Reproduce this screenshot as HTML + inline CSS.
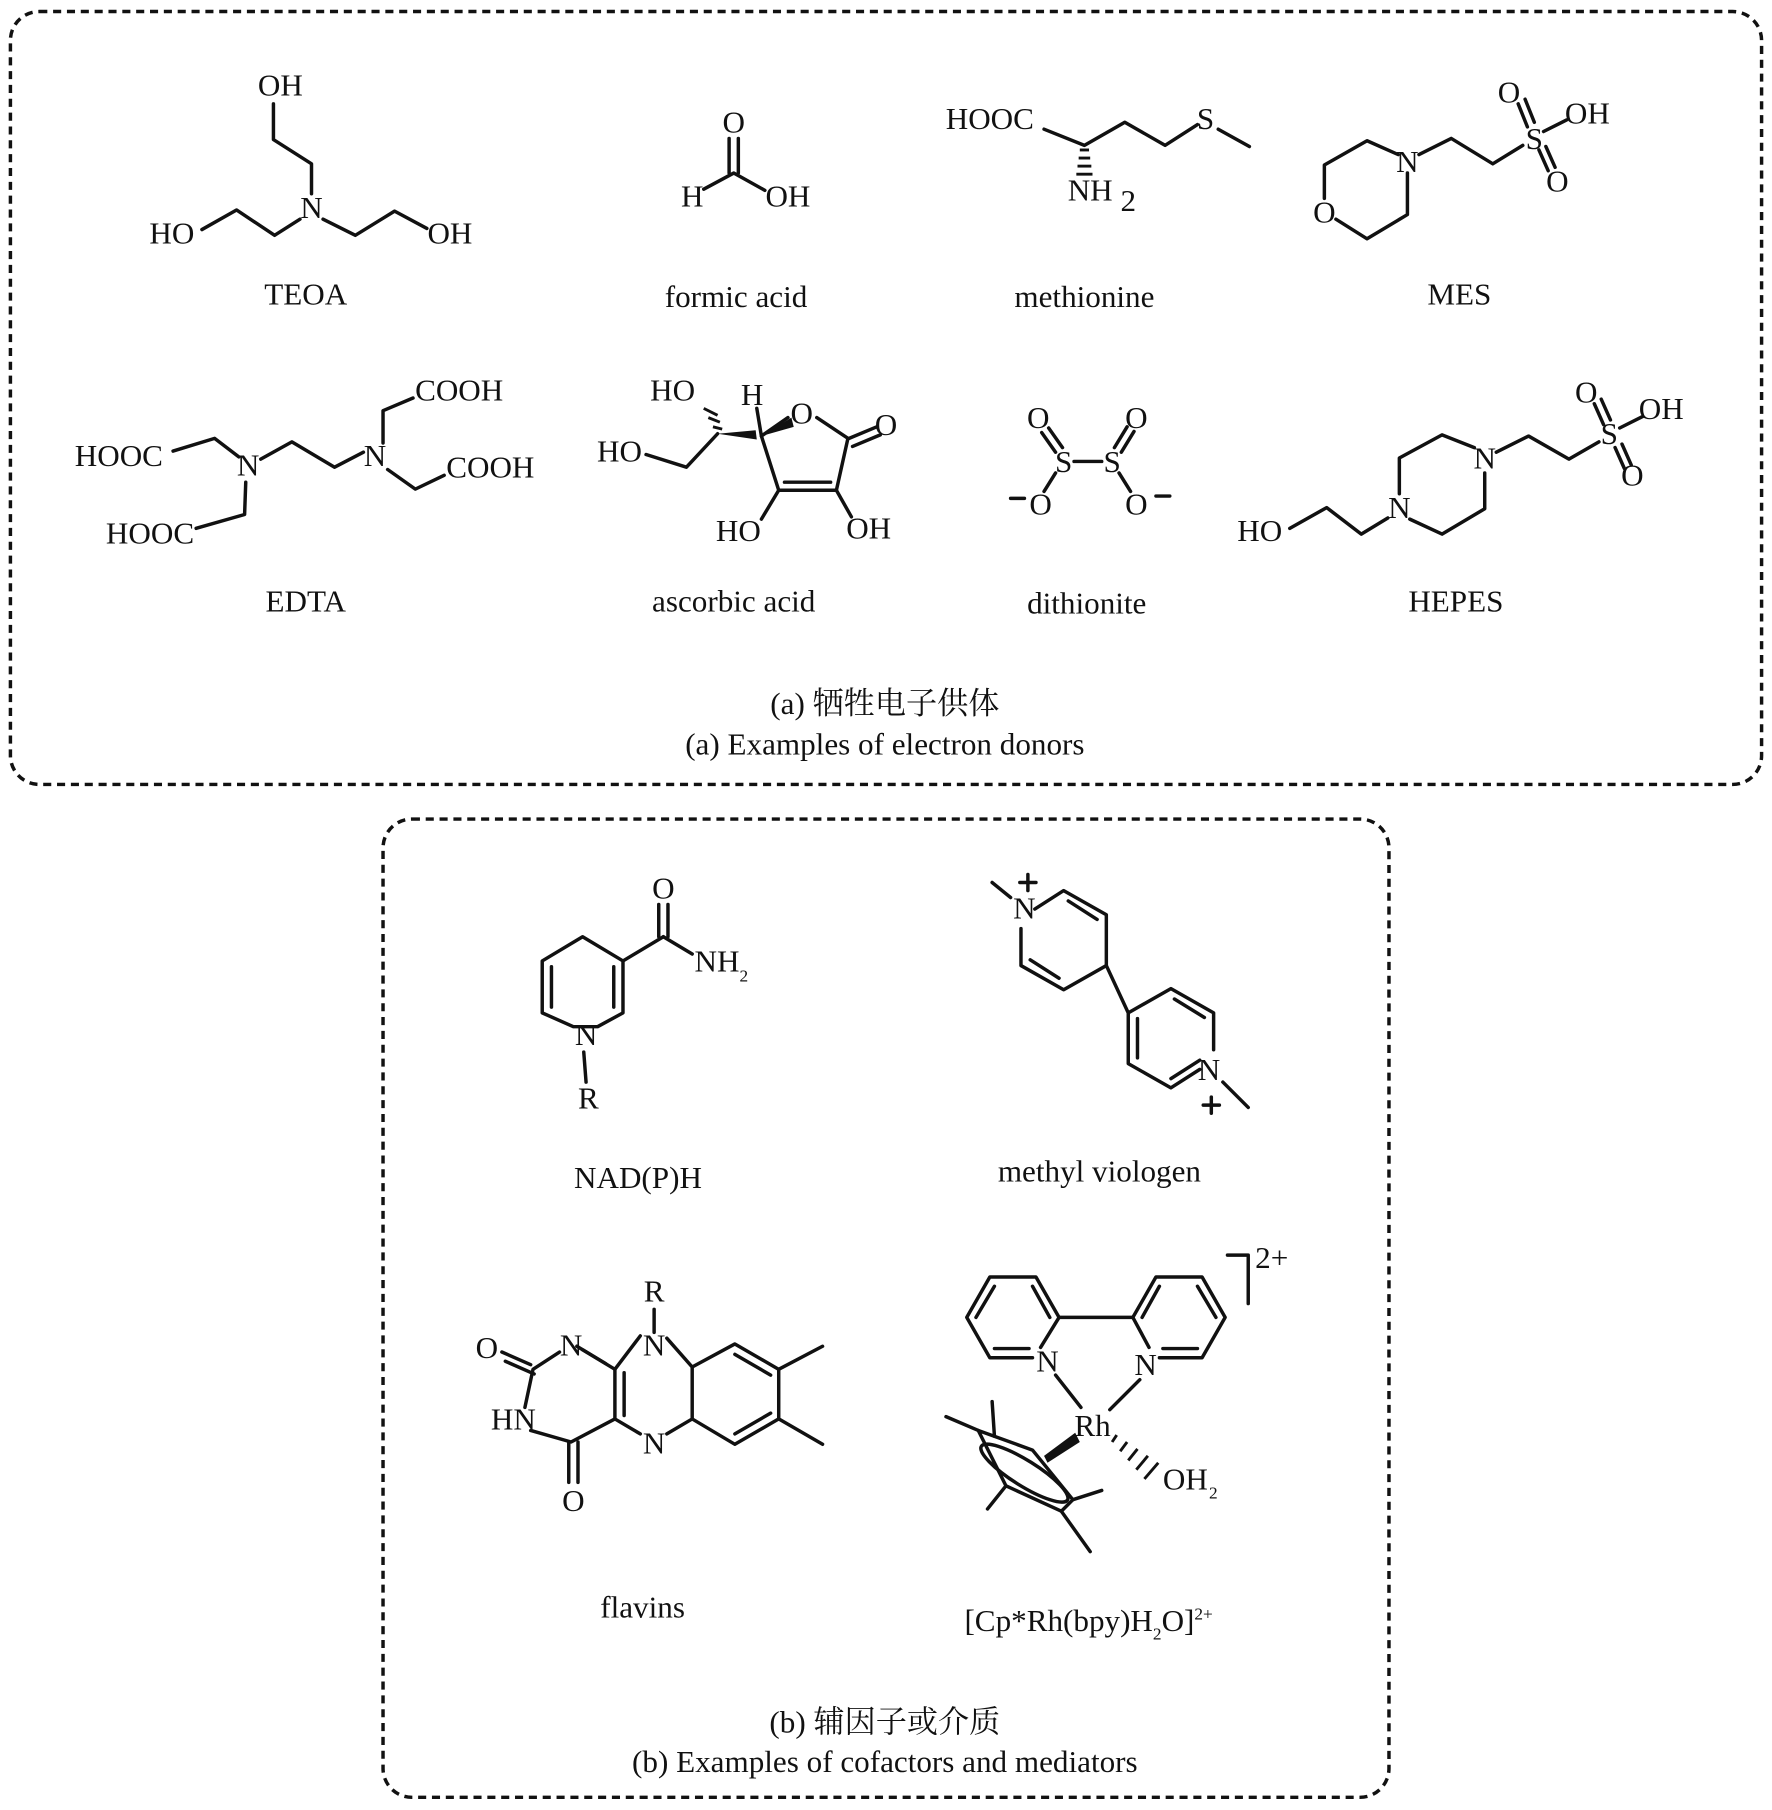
<!DOCTYPE html>
<html><head><meta charset="utf-8"><style>
html,body{margin:0;padding:0;background:#fff}
svg{display:block}
text{font-family:"Liberation Serif","Noto Serif CJK SC",serif;fill:#111}
</style></head><body>
<svg width="1772" height="1810" viewBox="0 0 1536 1569" xmlns="http://www.w3.org/2000/svg">
<g fill="none" stroke="#111" stroke-width="3" stroke-dasharray="7,5">
<rect x="9" y="10" width="1518" height="670" rx="25"/>
<rect x="332" y="710" width="872" height="848" rx="25"/>
</g>
<g fill="none" stroke="#111" stroke-width="3" stroke-linejoin="round" stroke-linecap="round">
<polyline points="175,199 205,182 238,204 260,190"/>
<polyline points="280,190 308,204 342,183 370,198"/>
<polyline points="270,168 270,142 237,121 237,90"/>
<line x1="632" y1="120" x2="632" y2="150"/><line x1="640" y1="120" x2="640" y2="150"/>
<polyline points="610,164 636,150 663,165"/>
<polyline points="905,112 940,126 975,106 1010,126 1038,108"/>
<line x1="1056" y1="112" x2="1083" y2="127"/>
<polyline points="1212,134 1185,122 1148,143 1148,172"/>
<polyline points="1158,190 1185,207 1220,186 1220,150"/>
<polyline points="1230,134 1258,120 1294,142 1320,126"/>
<line x1="1316" y1="90" x2="1324" y2="110"/><line x1="1322" y1="86" x2="1330" y2="106"/>
<line x1="1334" y1="130" x2="1342" y2="148"/><line x1="1340" y1="127" x2="1348" y2="145"/>
<line x1="1338" y1="114" x2="1358" y2="104"/>
<polyline points="150,391 186,380 207,396"/>
<polyline points="170,458 212,446 213,418"/>
<polyline points="226,398 253,383 290,405 315,392"/>
<polyline points="332,384 332,356 358,345"/>
<polyline points="336,407 360,424 385,412"/>
<polyline points="683,362 660,378 675,425 725,425 735,380 708,362"/>
<line x1="680" y1="418" x2="720" y2="418"/>
<line x1="736" y1="380" x2="760" y2="370"/><line x1="739" y1="387" x2="763" y2="377"/>
<line x1="725" y1="425" x2="738" y2="448"/><line x1="675" y1="425" x2="660" y2="450"/>
<line x1="660" y1="378" x2="656" y2="354"/>
<polyline points="622,376 595,405 560,394"/>
<line x1="931" y1="400" x2="955" y2="400"/>
<line x1="903" y1="375" x2="915" y2="392"/><line x1="909" y1="371" x2="921" y2="388"/>
<line x1="983" y1="374" x2="972" y2="392"/><line x1="977" y1="370" x2="966" y2="388"/>
<line x1="915" y1="410" x2="905" y2="426"/><line x1="970" y1="410" x2="980" y2="426"/>
<line x1="876" y1="432" x2="888" y2="432"/><line x1="1002" y1="430" x2="1014" y2="430"/>
<polyline points="1278,388 1250,377 1213,397 1213,428"/>
<polyline points="1222,450 1250,463 1287,441 1287,410"/>
<polyline points="1118,458 1150,440 1180,463 1203,449"/>
<polyline points="1297,392 1325,378 1360,398 1386,383"/>
<line x1="1382" y1="350" x2="1390" y2="368"/><line x1="1388" y1="346" x2="1396" y2="364"/>
<line x1="1400" y1="388" x2="1408" y2="406"/><line x1="1406" y1="385" x2="1414" y2="403"/>
<line x1="1404" y1="371" x2="1424" y2="361"/>
<polygon points="505,812 540,833 540,878 518,890 497,890 470,878 470,833"/>
<line x1="478" y1="838" x2="478" y2="873"/><line x1="532" y1="838" x2="532" y2="873"/>
<line x1="540" y1="833" x2="575" y2="812"/>
<line x1="571" y1="812" x2="571" y2="784"/><line x1="579" y1="812" x2="579" y2="784"/>
<line x1="575" y1="812" x2="600" y2="827"/>
<line x1="506" y1="912" x2="508" y2="938"/>
<polyline points="897,788 922,772 959,793 959,837 922,858 885,837 885,805"/>
<line x1="893" y1="832" x2="918" y2="848"/><line x1="926" y1="781" x2="951" y2="797"/>
<line x1="959" y1="837" x2="978" y2="878"/>
<polyline points="1040,927 1015,943 978,922 978,878 1015,857 1052,878 1052,910"/>
<line x1="986" y1="883" x2="986" y2="917"/><line x1="1018" y1="866" x2="1044" y2="882"/>
<line x1="1015" y1="935" x2="1040" y2="919"/>
<line x1="876" y1="778" x2="860" y2="765"/><line x1="1060" y1="938" x2="1082" y2="960"/>
<line x1="884" y1="765" x2="898" y2="765"/><line x1="891" y1="758" x2="891" y2="772"/>
<line x1="1043" y1="958" x2="1057" y2="958"/><line x1="1050" y1="951" x2="1050" y2="965"/>
<polyline points="555,1158 533,1187 533,1230 555,1243"/>
<polyline points="578,1160 600,1185 600,1230 578,1243"/>
<line x1="541" y1="1190" x2="541" y2="1227"/>
<polyline points="533,1187 505,1170"/><line x1="525" y1="1182" x2="500" y2="1167"/>
<polyline points="485,1172 462,1187 455,1220"/>
<line x1="460" y1="1183" x2="435" y2="1172"/><line x1="463" y1="1191" x2="438" y2="1180"/>
<polyline points="460,1240 495,1250 533,1230"/>
<line x1="493" y1="1250" x2="493" y2="1285"/><line x1="501" y1="1250" x2="501" y2="1285"/>
<polyline points="600,1185 637,1165 675,1187 675,1230 637,1252 600,1230"/>
<line x1="637" y1="1174" x2="668" y2="1192"/><line x1="637" y1="1243" x2="668" y2="1225"/>
<line x1="675" y1="1187" x2="713" y2="1167"/><line x1="675" y1="1230" x2="713" y2="1252"/>
<line x1="567" y1="1135" x2="567" y2="1155"/>
<polyline points="902,1168 918,1142 898,1107 858,1107 838,1142 858,1177 895,1177"/>
<line x1="846" y1="1142" x2="862" y2="1115"/><line x1="895" y1="1115" x2="910" y2="1142"/><line x1="862" y1="1169" x2="892" y2="1169"/>
<line x1="918" y1="1142" x2="982" y2="1142"/>
<polyline points="1005,1177 1042,1177 1062,1142 1042,1107 1002,1107 982,1142 996,1168"/>
<line x1="1054" y1="1142" x2="1038" y2="1115"/><line x1="1005" y1="1115" x2="990" y2="1142"/><line x1="1008" y1="1169" x2="1038" y2="1169"/>
<line x1="915" y1="1192" x2="937" y2="1220"/><line x1="988" y1="1196" x2="962" y2="1222"/>
<polyline points="1064,1088 1082,1088 1082,1130"/>
<polygon points="848,1240 895,1257 930,1300 920,1310 872,1288"/>
<ellipse cx="888" cy="1277" rx="44" ry="11" transform="rotate(32 888 1277)"/>
<line x1="848" y1="1240" x2="820" y2="1228"/><line x1="862" y1="1245" x2="860" y2="1215"/>
<line x1="930" y1="1300" x2="955" y2="1292"/><line x1="920" y1="1310" x2="945" y2="1345"/>
<line x1="872" y1="1288" x2="856" y2="1308"/>
</g>
<g fill="#111">
<polygon points="622,376 655,373 656,381"/>
<polygon points="660,378 688,370 686,362"/>
<polygon points="905,1262 932,1242 936,1250 908,1268"/>
</g>
<g stroke="#111" stroke-width="2.5">
<line x1="936" y1="130" x2="944" y2="130"/><line x1="935" y1="137" x2="945" y2="137"/><line x1="934" y1="144" x2="946" y2="144"/><line x1="933" y1="151" x2="947" y2="151"/>
<line x1="618" y1="370" x2="626" y2="372"/><line x1="614" y1="362" x2="624" y2="366"/><line x1="610" y1="354" x2="622" y2="360"/>
<line x1="968" y1="1244" x2="964" y2="1250"/><line x1="977" y1="1250" x2="971" y2="1258"/><line x1="986" y1="1256" x2="978" y2="1266"/><line x1="995" y1="1262" x2="985" y2="1274"/><line x1="1004" y1="1268" x2="992" y2="1282"/>
</g>
<g font-size="27">
<text x="243" y="83" text-anchor="middle">OH</text>
<text x="270" y="189" text-anchor="middle">N</text>
<text x="149" y="211" text-anchor="middle">HO</text>
<text x="390" y="211" text-anchor="middle">OH</text>
<text x="636" y="115" text-anchor="middle">O</text>
<text x="600" y="179" text-anchor="middle">H</text>
<text x="683" y="179" text-anchor="middle">OH</text>
<text x="858" y="112" text-anchor="middle">HOOC</text>
<text x="1045" y="112" text-anchor="middle">S</text>
<text x="945" y="174" text-anchor="middle">NH</text><text x="978" y="183" text-anchor="middle">2</text>
<text x="1220" y="149" text-anchor="middle">N</text>
<text x="1148" y="193" text-anchor="middle">O</text>
<text x="1308" y="89" text-anchor="middle">O</text>
<text x="1330" y="129" text-anchor="middle">S</text>
<text x="1376" y="107" text-anchor="middle">OH</text>
<text x="1350" y="166" text-anchor="middle">O</text>
<text x="103" y="404" text-anchor="middle">HOOC</text>
<text x="215" y="412" text-anchor="middle">N</text>
<text x="130" y="471" text-anchor="middle">HOOC</text>
<text x="325" y="404" text-anchor="middle">N</text>
<text x="398" y="347" text-anchor="middle">COOH</text>
<text x="425" y="414" text-anchor="middle">COOH</text>
<text x="583" y="347" text-anchor="middle">HO</text>
<text x="652" y="351" text-anchor="middle">H</text>
<text x="695" y="367" text-anchor="middle">O</text>
<text x="768" y="377" text-anchor="middle">O</text>
<text x="537" y="400" text-anchor="middle">HO</text>
<text x="640" y="469" text-anchor="middle">HO</text>
<text x="753" y="467" text-anchor="middle">OH</text>
<text x="900" y="371" text-anchor="middle">O</text>
<text x="985" y="371" text-anchor="middle">O</text>
<text x="922" y="409" text-anchor="middle">S</text>
<text x="964" y="409" text-anchor="middle">S</text>
<text x="902" y="446" text-anchor="middle">O</text>
<text x="985" y="446" text-anchor="middle">O</text>
<text x="1375" y="349" text-anchor="middle">O</text>
<text x="1395" y="385" text-anchor="middle">S</text>
<text x="1440" y="363" text-anchor="middle">OH</text>
<text x="1415" y="421" text-anchor="middle">O</text>
<text x="1287" y="406" text-anchor="middle">N</text>
<text x="1213" y="449" text-anchor="middle">N</text>
<text x="1092" y="469" text-anchor="middle">HO</text>
<text x="265" y="264" text-anchor="middle">TEOA</text>
<text x="638" y="266" text-anchor="middle">formic acid</text>
<text x="940" y="266" text-anchor="middle">methionine</text>
<text x="1265" y="264" text-anchor="middle">MES</text>
<text x="265" y="530" text-anchor="middle">EDTA</text>
<text x="636" y="530" text-anchor="middle">ascorbic acid</text>
<text x="942" y="532" text-anchor="middle">dithionite</text>
<text x="1262" y="530" text-anchor="middle">HEPES</text>
<text x="767" y="619" text-anchor="middle">(a) 牺牲电子供体</text>
<text x="767" y="654" text-anchor="middle">(a) Examples of electron donors</text>
<text x="575" y="779" text-anchor="middle">O</text>
<text x="602" y="842">NH</text><text x="641" y="851" font-size="15">2</text>
<text x="508" y="906" text-anchor="middle">N</text>
<text x="510" y="961" text-anchor="middle">R</text>
<text x="888" y="796" text-anchor="middle">N</text>
<text x="1048" y="936" text-anchor="middle">N</text>
<text x="553" y="1030" text-anchor="middle">NAD(P)H</text>
<text x="953" y="1024" text-anchor="middle">methyl viologen</text>
<text x="567" y="1128" text-anchor="middle">R</text>
<text x="495" y="1175" text-anchor="middle">N</text>
<text x="567" y="1175" text-anchor="middle">N</text>
<text x="422" y="1177" text-anchor="middle">O</text>
<text x="445" y="1239" text-anchor="middle">HN</text>
<text x="567" y="1260" text-anchor="middle">N</text>
<text x="497" y="1310" text-anchor="middle">O</text>
<text x="908" y="1189" text-anchor="middle">N</text>
<text x="993" y="1192" text-anchor="middle">N</text>
<text x="947" y="1245" text-anchor="middle">Rh</text>
<text x="1008" y="1291">OH</text><text x="1048" y="1299" font-size="15">2</text>
<text x="1088" y="1099">2+</text>
<text x="557" y="1402" text-anchor="middle">flavins</text>
<text x="836" y="1414">[Cp*Rh(bpy)H<tspan font-size="15" dy="7">2</tspan><tspan dy="-7">O]</tspan><tspan font-size="15" dy="-10">2+</tspan></text>
<text x="767" y="1502" text-anchor="middle">(b) 辅因子或介质</text>
<text x="767" y="1536" text-anchor="middle">(b) Examples of cofactors and mediators</text>
</g>
</svg>
</body></html>
